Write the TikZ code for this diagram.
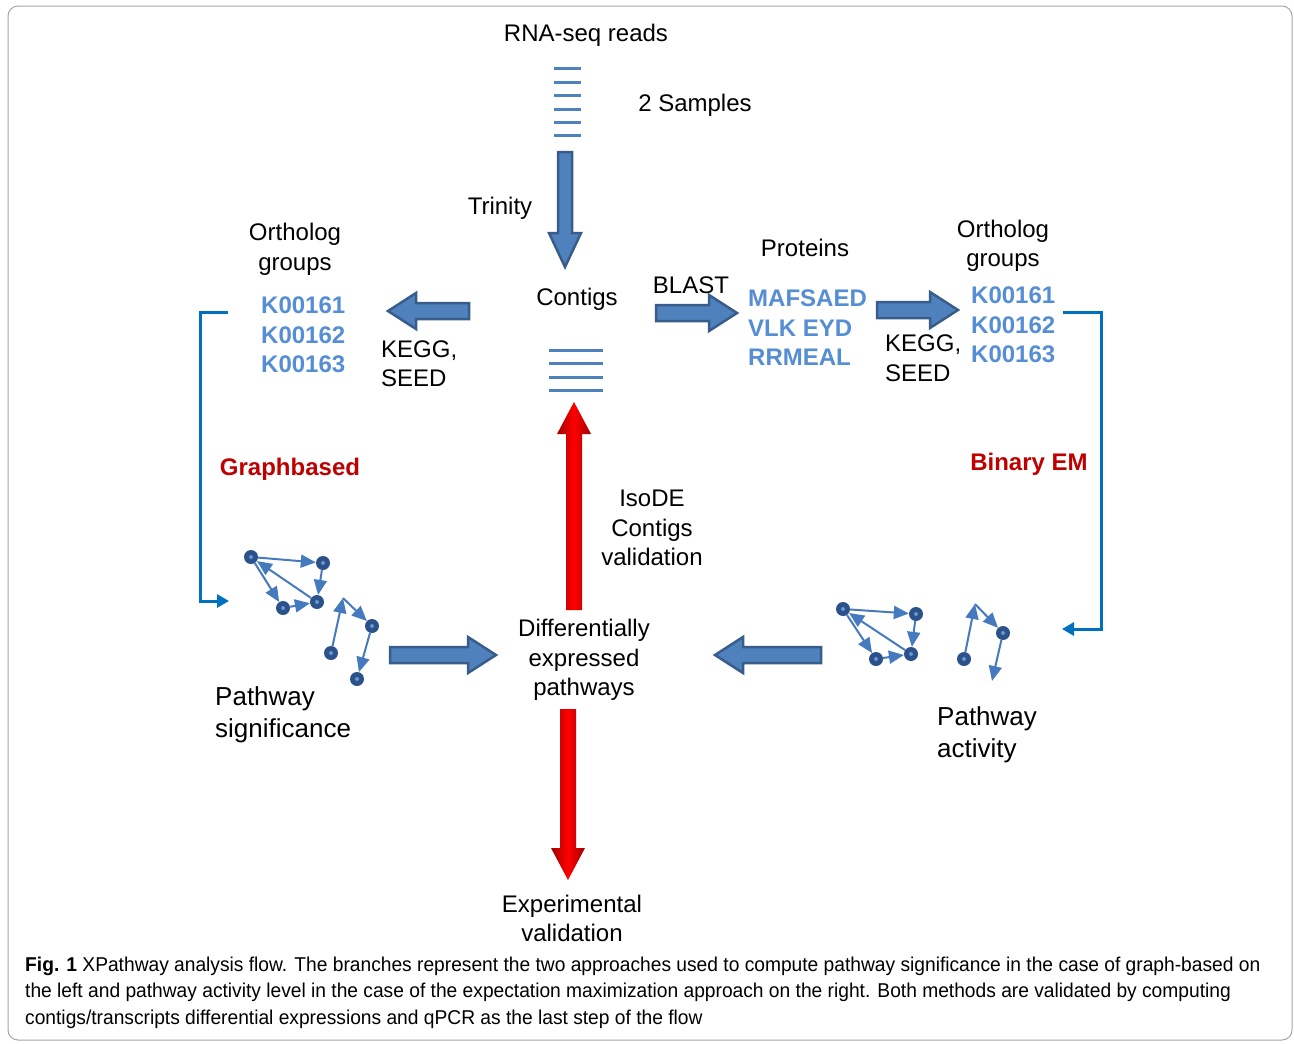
\documentclass[tikz,border=0pt]{standalone}
\usepackage{fontspec}
\setmainfont{Liberation Sans}
\newfontfamily\capfont[FakeStretch=0.96]{Liberation Sans}
\usetikzlibrary{arrows.meta}
\definecolor{bfill}{RGB}{79,129,189}
\definecolor{bdraw}{RGB}{56,93,138}
\definecolor{kblue}{RGB}{85,142,213}
\definecolor{dred}{RGB}{192,0,0}
\definecolor{rdark}{RGB}{160,0,0}
\definecolor{brk}{RGB}{0,112,192}
\definecolor{gedge}{RGB}{70,122,190}
\definecolor{gdot}{RGB}{44,82,140}
\definecolor{lline}{RGB}{79,129,189}
% horizontal block arrow: style, xs, xe, y
\newcommand\hblock[4]{%
  \pgfmathsetmacro\hx{#3>#2 ? #3-28 : #3+28}%
  \path[#1] (#2,{#4-8}) -- (\hx,{#4-8}) -- (\hx,{#4-18}) -- (#3,#4) -- (\hx,{#4+18}) -- (\hx,{#4+8}) -- (#2,{#4+8}) -- cycle;}
% vertical block arrow: style, x, ys, ye, shaft half, head half, head length
\newcommand\vblock[7]{%
  \pgfmathsetmacro\hy{#4>#3 ? #4-#7 : #4+#7}%
  \path[#1] ({#2-#5},#3) -- ({#2-#5},\hy) -- ({#2-#6},\hy) -- (#2,#4) -- ({#2+#6},\hy) -- ({#2+#5},\hy) -- ({#2+#5},#3) -- cycle;}
\begin{document}
\begin{tikzpicture}[x=1pt,y=-1pt,
  txt/.style={font=\fontsize{24}{29.5}\selectfont, align=center, inner sep=0pt, yshift=-2pt},
  bigtxt/.style={font=\fontsize{26}{32}\selectfont, align=left, anchor=west, inner sep=0pt, yshift=-2pt},
  ktxt/.style={font=\fontsize{24}{29.5}\selectfont\bfseries, text=kblue, align=left, inner sep=0pt, anchor=west, yshift=-2pt},
  rtxt/.style={font=\fontsize{24}{29.5}\selectfont\bfseries, text=dred, inner sep=0pt, yshift=-2pt},
  barrow/.style={fill=bfill, draw=bdraw, line width=2.5pt, line join=miter},
  rarrow/.style={left color=rdark, right color=rdark, middle color=red},
  rline/.style={draw=lline, line width=3pt},
  bracket/.style={draw=brk, line width=3pt, -{Triangle[length=12pt,width=13pt]}},
  dot/.style={circle, fill=gdot, minimum size=14pt, inner sep=0pt,
     path picture={\fill[gedge!80] (path picture bounding box.center) circle (2pt);}},
  gedgearrow/.style={draw=gedge, line width=2pt, -{Triangle[length=15pt,width=13pt]}},
  captxt/.style={font=\capfont\fontsize{20}{26}\selectfont, inner sep=0pt, anchor=west}
]
\useasboundingbox (0,0) rectangle (1294,1044);
\fill[white] (0,0) rectangle (1294,1044);
\draw[gray!70, line width=1pt, rounded corners=10pt] (8,6) rectangle (1292,1040);

% top
\node[txt] (rna) at (586,33) {RNA-seq reads};
\node[txt] (samples) at (695,103) {2 Samples};
\foreach \yy in {68,82,95,109,122,135} \draw[rline] (554,\yy) -- (581,\yy);
\vblock{barrow}{565}{152}{267}{7}{16}{34}
\node[txt] (trinity) at (500,206) {Trinity};
\node[txt] (contigs) at (577,297) {Contigs};
\foreach \yy in {350,363,377,390} \draw[rline] (549,\yy) -- (603,\yy);

% left ortholog
\node[txt] (orthL) at (295,247.5) {Ortholog\\groups};
\node[ktxt] (kL) at (261,333) {K00161\\K00162\\K00163};
\hblock{barrow}{469}{388}{311}
\node[txt, align=left, anchor=west] (keggL) at (381,361.5) {KEGG,\\SEED};

% right
\node[txt] (blast) at (691,283) {BLAST};
\hblock{barrow}{656}{737}{313}
\node[txt] (prot) at (805,246) {Proteins};
\node[ktxt] (seqs) at (748,326) {MAFSAED\\VLK EYD\\RRMEAL};
\hblock{barrow}{877}{958}{310}
\node[txt] (orthR) at (1003,244) {Ortholog\\groups};
\node[ktxt] (kR) at (971,323) {K00161\\K00162\\K00163};
\node[txt, align=left, anchor=west] (keggR) at (885,356) {KEGG,\\SEED};

% brackets
\coordinate (lbt) at (228,312);
\coordinate (lbb) at (229,601);
\draw[bracket] (lbt) -- (200,312) -- (200,601) -- (lbb);
\coordinate (rbt) at (1063,312);
\coordinate (rbb) at (1062,629);
\draw[bracket] (rbt) -- (1101,312) -- (1101,629) -- (rbb);

\node[rtxt] (graphb) at (290,467) {Graphbased};
\node[rtxt] (binem) at (1029,462) {Binary EM};

% red arrows
\vblock{rarrow}{574}{610}{402}{8}{17}{32}
\node[txt] (isode) at (652,526) {IsoDE\\Contigs\\validation};
\node[txt] (dep) at (584,658) {Differentially\\expressed\\pathways};
\vblock{rarrow}{568}{709}{880}{8}{17}{32}
\node[txt] (exp) at (572,916.5) {Experimental\\validation};

% bottom horizontal arrows
\hblock{barrow}{390}{496}{655}
\hblock{barrow}{821}{715}{655}

\node[bigtxt] (psig) at (215,713) {Pathway\\significance};
\node[bigtxt] (pact) at (937,733) {Pathway\\activity};

% left graph
\node[dot] (la) at (251,557) {};
\node[dot] (lb) at (323,563) {};
\node[dot] (lc) at (283,608) {};
\node[dot] (ld) at (317,602) {};
\node[dot] (le) at (331,653) {};
\node[dot] (lf) at (372,626) {};
\node[dot] (lg) at (357,679) {};
\coordinate (lh) at (343,598);
\draw[gedgearrow] (la) -- (lb);
\draw[gedgearrow] (lb) -- (ld);
\draw[gedgearrow] (la) -- (lc);
\draw[gedgearrow] (lc) -- (ld);
\draw[gedgearrow] (ld) -- (la);
\draw[gedgearrow] (le) -- (lh);
\draw[gedgearrow] (lh) -- (lf);
\draw[gedgearrow] (lf) -- (lg);

% right graph
\node[dot] (ra) at (843,609) {};
\node[dot] (rb) at (916,614) {};
\node[dot] (rc) at (876,659) {};
\node[dot] (rd) at (911,654) {};
\node[dot] (re) at (964,659) {};
\node[dot] (rf) at (1003,633) {};
\coordinate (rh) at (975,604);
\coordinate (rg) at (992,681);
\draw[gedgearrow] (ra) -- (rb);
\draw[gedgearrow] (rb) -- (rd);
\draw[gedgearrow] (ra) -- (rc);
\draw[gedgearrow] (rc) -- (rd);
\draw[gedgearrow] (rd) -- (ra);
\draw[gedgearrow] (re) -- (rh);
\draw[gedgearrow] (rh) -- (rf);
\draw[gedgearrow] (rf) -- (rg);

% caption
\node[captxt] (cap1) at (25,966) {\textbf{Fig. 1} XPathway analysis flow. The branches represent the two approaches used to compute pathway significance in the case of graph-based on};
\node[captxt] (cap2) at (25,992) {the left and pathway activity level in the case of the expectation maximization approach on the right. Both methods are validated by computing};
\node[captxt] (cap3) at (25,1019) {contigs/transcripts differential expressions and qPCR as the last step of the flow};
\end{tikzpicture}
\end{document}
